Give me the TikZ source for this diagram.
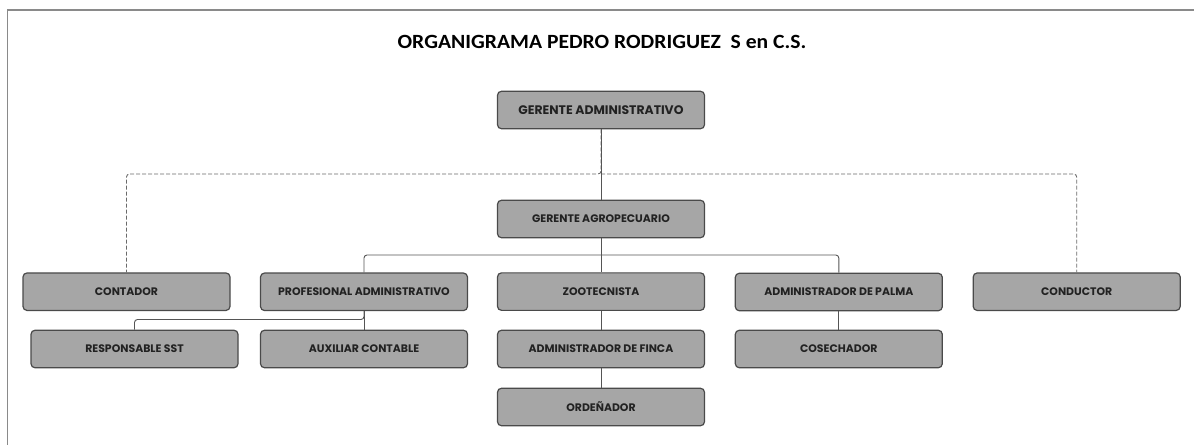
\documentclass[tikz,border=0pt]{standalone}
\usepackage{fontspec}
\setmainfont{Poppins}
\newfontfamily\titlefont[FakeStretch=1.07]{Carlito}
\definecolor{boxfill}{HTML}{A6A6A6}
\definecolor{boxline}{HTML}{4A4A4A}
\definecolor{linkcol}{HTML}{555555}
\definecolor{dashcol}{HTML}{6A6A6A}
\definecolor{framecol}{HTML}{8A8A8A}
\definecolor{txtcol}{HTML}{222222}
\tikzset{
  role/.style={draw=boxline, line width=1.2pt, fill=boxfill, rounded corners=4pt,
    minimum width=207pt, minimum height=37.5pt, inner sep=0pt,
    font=\bfseries\fontsize{10.9}{13}\selectfont, text=txtcol},
  toprole/.style={role, font=\bfseries\fontsize{12.4}{14}\selectfont},
  link/.style={draw=linkcol, line width=0.9pt, rounded corners=3pt},
  dlink/.style={draw=dashcol, line width=0.9pt, rounded corners=3pt, dash pattern=on 4pt off 2pt},
}
\begin{document}
\begin{tikzpicture}[x=1pt,y=-1pt]
\useasboundingbox (0,0) rectangle (1194,445);
\draw[framecol, line width=1.5pt] (1194,10) -- (7.5,10) -- (7.5,445);
\node[font=\titlefont\bfseries\fontsize{20.2}{22}\selectfont, text=black] (title) at (602,42) {ORGANIGRAMA PEDRO RODRIGUEZ\ \ S en C.S.};
\node[toprole] (ga) at (601,110) {GERENTE ADMINISTRATIVO};
\node[role] (gag) at (601,219) {GERENTE AGROPECUARIO};
\node[role] (cont) at (126.5,291.7) {CONTADOR};
\node[role] (prof) at (364,291.8) {PROFESIONAL ADMINISTRATIVO};
\node[role] (zoo) at (601,291.6) {ZOOTECNISTA};
\node[role] (palma) at (838.8,292) {ADMINISTRADOR DE PALMA};
\node[role] (cond) at (1076.7,291.7) {CONDUCTOR};
\node[role] (sst) at (134.5,349) {RESPONSABLE SST};
\node[role] (aux) at (364,349) {AUXILIAR CONTABLE};
\node[role] (finca) at (601,349) {ADMINISTRADOR DE FINCA};
\node[role] (cos) at (838.8,349) {COSECHADOR};
\node[role] (ord) at (601,407) {ORDEÑADOR};
\coordinate (dj) at (601,174);
\coordinate (sj) at (601,255);
\coordinate (pj) at (364,319.5);
% dashed staff links
\draw[dlink] (ga.south) -- (dj) -| (cont.north);
\draw[dlink] (dj) -| (cond.north);
% solid hierarchy
\draw[link] (ga.south) -- (gag.north);
\draw[link] (gag.south) -- (zoo.north);
\draw[link] (sj) -| (prof.north);
\draw[link] (sj) -| (palma.north);
\draw[link] (prof.south) -- (aux.north);
\draw[link] (prof.south) -- (pj) -| (sst.north);
\draw[link] (zoo.south) -- (finca.north);
\draw[link] (finca.south) -- (ord.north);
\draw[link] (palma.south) -- (cos.north);
\end{tikzpicture}
\end{document}
